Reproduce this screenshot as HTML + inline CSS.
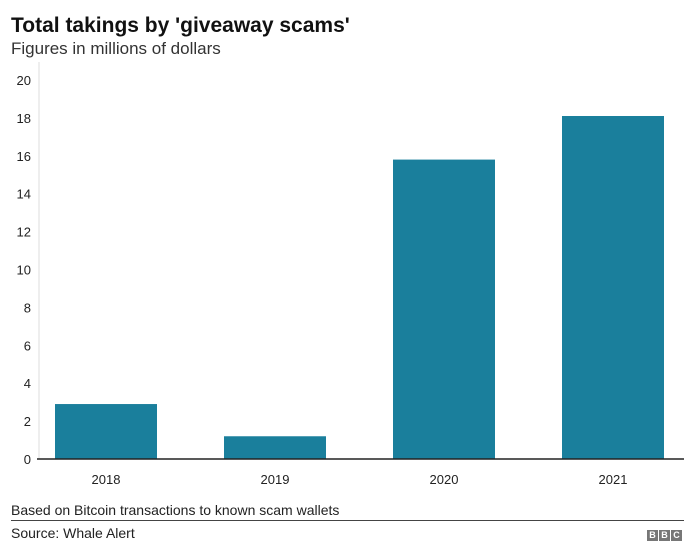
<!DOCTYPE html>
<html><head><meta charset="utf-8"><style>
body{margin:0;width:700px;height:558px;background:#fff;font-family:"Liberation Sans",Arial,sans-serif;overflow:hidden;position:relative}
.t{position:absolute;white-space:nowrap;color:#222}
</style></head><body>
<div class="t" style="left:11px;top:14px;font-size:21px;font-weight:bold;color:#111">Total takings by 'giveaway scams'</div>
<div class="t" style="left:11px;top:39px;font-size:17px;color:#333">Figures in millions of dollars</div>
<svg id="c" width="700" height="558" style="position:absolute;left:0;top:0"></svg>
<div class="t" style="left:11px;top:502px;font-size:14px">Based on Bitcoin transactions to known scam wallets</div>
<div style="position:absolute;left:11px;top:520px;width:673px;height:1px;background:#444"></div>
<div class="t" style="left:11px;top:525px;font-size:14px">Source: Whale Alert</div>
<div style="position:absolute;left:647px;top:530px;display:flex;gap:1px">
<span style="width:11px;height:11px;background:#777;color:#fff;font-size:9px;font-weight:bold;text-align:center;line-height:11px">B</span>
<span style="width:11px;height:11px;background:#777;color:#fff;font-size:9px;font-weight:bold;text-align:center;line-height:11px">B</span>
<span style="width:11px;height:11px;background:#777;color:#fff;font-size:9px;font-weight:bold;text-align:center;line-height:11px">C</span>
</div>
<script>
const categories=['2018','2019','2020','2021'];
const values=[2.9,1.2,15.8,18.1];
const yTicks=[0,2,4,6,8,10,12,14,16,18,20];
const NS='http://www.w3.org/2000/svg';
const svg=document.getElementById('c');
const y0=459,y1=80,yMax=20,left=39,right=684;
const y=v=>y0-(v/yMax)*(y0-y1);
const bandStart=21.5,band=169;
const bw=102;
const xc=i=>bandStart+band*(i+0.5);
function mk(t,a){const e=document.createElementNS(NS,t);for(const k in a)e.setAttribute(k,a[k]);svg.appendChild(e);return e;}
const ax=mk('line',{x1:left,x2:left,y1:y1-18,y2:y0,stroke:'#ddd','stroke-width':1});


yTicks.forEach(v=>{
 const t=mk('text',{x:31,y:y(v)+5,'text-anchor':'end','font-size':13,fill:'#222','font-family':'Liberation Sans, sans-serif'});
 t.textContent=v;
 
 
});
categories.forEach((c,i)=>{
 const r=mk('rect',{x:xc(i)-bw/2,y:y(values[i]),width:bw,height:y0-y(values[i]),fill:'#1a7f9c'});
 
 
 const t=mk('text',{x:xc(i),y:484,'text-anchor':'middle','font-size':13,fill:'#222','font-family':'Liberation Sans, sans-serif'});
 t.textContent=c;
 
 
});
const base=mk('line',{x1:left-2,x2:right,y1:y0,y2:y0,stroke:'#222','stroke-width':1.5});


</script>
</body></html>
